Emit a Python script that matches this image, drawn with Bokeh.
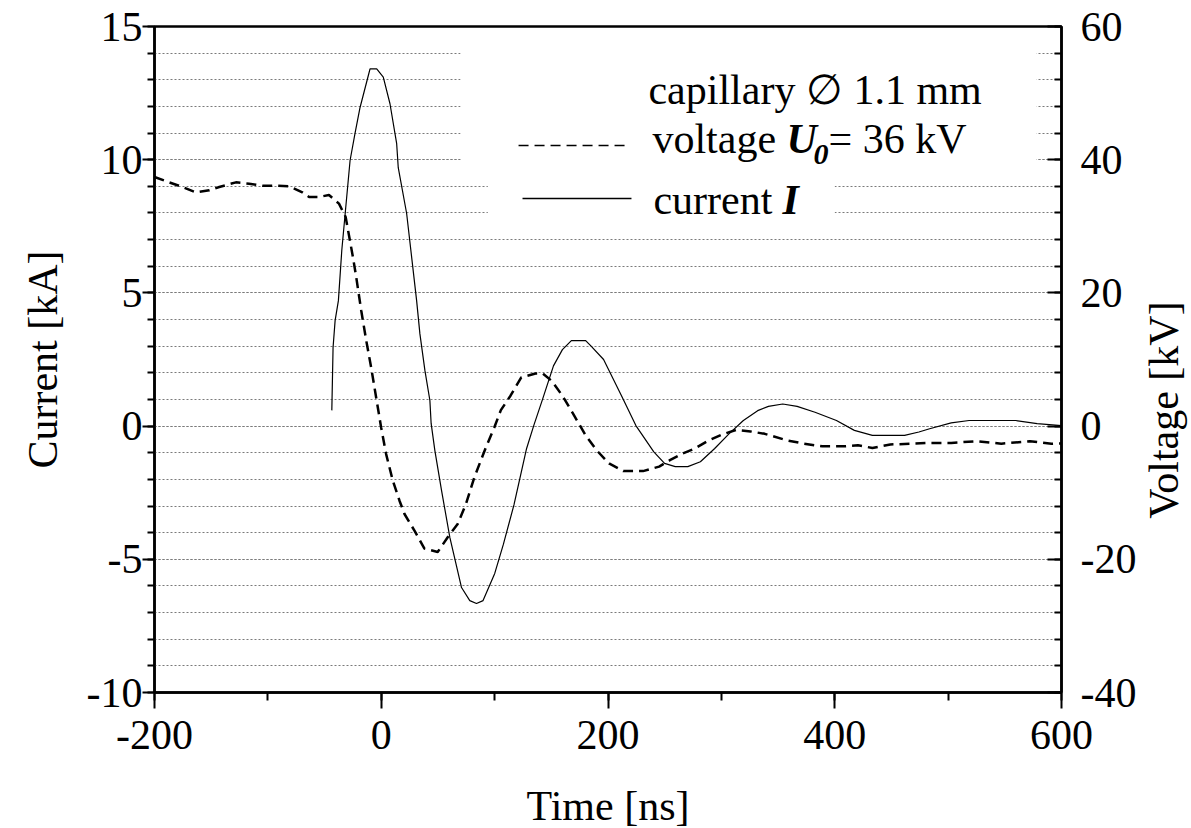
from bokeh.plotting import figure
from bokeh.layouts import row
from bokeh.models import (Range1d, LinearAxis, SingleIntervalTicker, Label, Arrow,
                          BoxAnnotation, ColumnDataSource, Div)
from bokeh.embed import file_html
from bokeh.resources import INLINE

# ---------------- data ----------------
time_current = [-43.6, -42.5, -40.7, -37.8, -34.8, -27.5, -23.1, -18.7, -11.4, -9.9,
                -4.0, 1.8, 7.7, 13.6, 15.0, 22.4, 31.2, 34.1, 38.5, 42.9,
                44.0, 47.3, 53.2, 60.5, 70.8, 78.1, 84.0, 89.8, 100.1, 107.7,
                117.1, 128.2, 134.5, 142.4, 151.9, 159.8, 167.7, 180.3, 185.1, 196.1,
                211.9, 224.6, 240.4, 249.9, 259.3, 270.4, 281.5, 294.1, 306.7, 319.4,
                332.0, 341.5, 354.1, 366.8, 382.6, 401.5, 417.3, 433.2, 461.6, 474.2,
                483.7, 502.7, 518.5, 559.5, 578.5, 600.0]
current_kA = [0.59, 2.95, 3.96, 4.71, 6.6, 9.97, 11.0, 11.96, 13.16, 13.41,
              13.41, 13.1, 12.1, 10.6, 9.7, 7.98, 4.71, 3.46, 2.09, 0.96,
              0.1, -0.92, -2.42, -4.18, -6.06, -6.55, -6.66, -6.55, -5.53, -4.44,
              -2.95, -0.84, 0.02, 1.02, 2.26, 2.87, 3.21, 3.21, 3.0, 2.5,
              1.14, 0.02, -0.97, -1.40, -1.52, -1.52, -1.34, -0.84, -0.29, 0.21,
              0.58, 0.74, 0.83, 0.74, 0.52, 0.21, -0.16, -0.35, -0.35, -0.22,
              -0.10, 0.12, 0.21, 0.21, 0.09, 0.02]

time_voltage = [-200.0, -187.0, -175.3, -163.5, -151.7, -142.9, -128.2, -116.5, -104.8, -93.0,
                -81.3, -69.6, -63.7, -54.9, -46.1, -37.3, -31.4, -24.9, -22.1, -17.7,
                -13.3, -8.9, -4.5, -0.1, 4.3, 10.2, 16.1, 20.5, 29.3, 38.1,
                49.8, 58.6, 67.4, 74.7, 82.1, 92.3, 99.7, 105.5, 114.0, 123.5,
                136.1, 142.4, 150.3, 159.8, 169.3, 180.3, 189.8, 200.9, 213.5, 230.9,
                245.1, 254.6, 265.7, 276.7, 287.8, 300.4, 313.1, 325.7, 338.3, 357.3,
                373.1, 388.9, 407.9, 420.5, 433.2, 449.0, 467.9, 483.7, 502.7, 524.8,
                546.9, 572.2, 591.1, 600.0]
voltage_kV = [37.4, 36.6, 35.9, 35.1, 35.4, 35.9, 36.6, 36.4, 36.1, 36.1,
              36.0, 35.1, 34.4, 34.4, 34.7, 33.4, 31.4, 25.3, 22.4, 17.4,
              12.9, 8.8, 4.3, -0.2, -4.2, -8.2, -11.2, -13.2, -15.7, -18.4,
              -18.9, -16.7, -14.7, -11.7, -7.7, -3.2, -0.2, 2.4, 4.56, 7.3,
              7.9, 7.9, 6.8, 4.56, 1.84, -1.4, -3.6, -5.6, -6.76, -6.76,
              -6.08, -5.12, -4.12, -3.36, -2.24, -1.28, -0.56, -0.8, -1.16, -2.12,
              -2.64, -3.04, -3.04, -2.88, -3.28, -2.76, -2.64, -2.52, -2.52, -2.28,
              -2.64, -2.28, -2.64, -2.6]

x_ticks = [-200, 0, 200, 400, 600]
x_tick_labels = ["-200", "0", "200", "400", "600"]
current_ticks = [-10, -5, 0, 5, 10, 15]
current_tick_labels = ["-10", "-5", "0", "5", "10", "15"]
voltage_ticks = [-40, -20, 0, 20, 40, 60]
voltage_tick_labels = ["-40", "-20", "0", "20", "40", "60"]

x_title = "Time [ns]"
left_title = "Current [kA]"
right_title = "Voltage [kV]"
legend_title = "capillary \u2205 1.1 mm"
legend_voltage = ["voltage", "U", "0", "= 36 kV"]
legend_current = ["current", "I"]

FONT = "Liberation Serif"
FS = "42px"

# ---------------- figure ----------------
p = figure(frame_width=907, frame_height=666,
           x_range=Range1d(-200, 600), y_range=Range1d(-10, 15),
           output_backend="svg", toolbar_location=None,
           min_border=0, min_border_left=154, min_border_top=26,
           min_border_right=0, min_border_bottom=0)
p.background_fill_color = "white"
p.border_fill_color = "white"
p.outline_line_color = "black"
p.outline_line_width = 2.5

# left axis
left_ticker = SingleIntervalTicker(interval=5, num_minor_ticks=5)
la = p.left[0]
la.ticker = left_ticker
la.major_label_overrides = dict(zip(current_ticks, current_tick_labels))
la.axis_label = left_title
la.major_tick_out = 12
la.major_tick_in = 0
la.minor_tick_out = 7
la.minor_tick_in = 0
la.major_label_standoff = 0
la.axis_label_standoff = 18

# bottom axis
ba = p.below[0]
ba.ticker = SingleIntervalTicker(interval=200, num_minor_ticks=2)
ba.major_label_overrides = dict(zip(x_ticks, x_tick_labels))
ba.axis_label = x_title
ba.major_tick_out = 16
ba.major_tick_in = 0
ba.minor_tick_out = 8
ba.minor_tick_in = 0
ba.major_label_standoff = 12
ba.axis_label_standoff = 31

# right axis (its title is drawn next to the figure, reading upwards)
p.extra_y_ranges = {"volt": Range1d(-40, 60)}
ra = LinearAxis(y_range_name="volt",
                ticker=SingleIntervalTicker(interval=20, num_minor_ticks=5))
ra.major_label_overrides = dict(zip(voltage_ticks, voltage_tick_labels))
ra.major_tick_in = 14
ra.major_tick_out = 0
ra.minor_tick_in = 7
ra.minor_tick_out = 0
ra.major_label_standoff = 19
p.add_layout(ra, "right")

for ax in (la, ba, ra):
    ax.axis_line_width = 2.5
    ax.axis_line_color = "black"
    ax.major_tick_line_width = 2
    ax.minor_tick_line_width = 2
    ax.major_tick_line_color = "black"
    ax.minor_tick_line_color = "black"
    ax.major_label_text_font = FONT
    ax.major_label_text_font_size = FS
    ax.major_label_text_color = "black"
    ax.axis_label_text_font = FONT
    ax.axis_label_text_font_size = FS
    ax.axis_label_text_font_style = "normal"
    ax.axis_label_text_color = "black"

# grids
p.xgrid.visible = False
p.ygrid.ticker = left_ticker
p.ygrid.grid_line_color = "#7a7a7a"
p.ygrid.grid_line_dash = "2 2"
p.ygrid.grid_line_width = 1
p.ygrid.minor_grid_line_color = "#7a7a7a"
p.ygrid.minor_grid_line_dash = "2 2"
p.ygrid.minor_grid_line_width = 1

# ---------------- data lines ----------------
src_i = ColumnDataSource(dict(t=time_current, v=current_kA))
src_u = ColumnDataSource(dict(t=time_voltage, v=voltage_kV))
p.line("t", "v", source=src_i, line_color="black", line_width=1.2)
p.line("t", "v", source=src_u, y_range_name="volt", line_color="black",
       line_width=2.5, line_dash="10 6")

# ---------------- legend (manual) ----------------
p.add_layout(BoxAnnotation(left=70, right=578, bottom=9.5, top=14.5,
                           fill_color="white", fill_alpha=1, line_color=None))
p.add_layout(BoxAnnotation(left=94, right=400, bottom=7.5, top=9.5,
                           fill_color="white", fill_alpha=1, line_color=None))

def lab(text, x, y, xo=0, yo=0, style="normal", size=FS):
    p.add_layout(Label(x=x, y=y, x_offset=xo, y_offset=yo, text=text,
                       text_font=FONT, text_font_size=size, text_font_style=style,
                       text_color="black", text_align="left",
                       text_baseline="alphabetic"))

lab(legend_title, 235.7, 12.6)
lab(legend_voltage[0], 239.2, 10.76)
lab(legend_voltage[1], 239.2, 10.76, xo=134, style="bold italic")
lab(legend_voltage[2], 239.2, 10.76, xo=161, yo=-15, style="bold italic", size="30px")
lab(legend_voltage[3], 239.2, 10.76, xo=176)
lab(legend_current[0], 240.1, 8.47)
lab(legend_current[1], 240.1, 8.47, xo=129, style="bold italic")

p.add_layout(Arrow(x_start=121.1, y_start=10.53, x_end=218.1, y_end=10.53,
                   start=None, end=None, line_color="black", line_width=1.5,
                   line_dash="10 6"))
p.add_layout(Arrow(x_start=124.6, y_start=8.54, x_end=220.7, y_end=8.54,
                   start=None, end=None, line_color="black", line_width=1.5))

# right-hand title, rotated to read bottom-to-top
right_div = Div(
    text=('<div style="position:absolute; left:20px; top:405px; '
          'transform:translate(-50%,-50%) rotate(-90deg); white-space:nowrap; '
          "font-family:'Liberation Serif'; font-size:42px; line-height:1; "
          'color:black;">' + right_title + '</div>'),
    width=52, height=760, styles={"overflow": "visible"})

layout = row(p, right_div, spacing=0)
open("out.html", "w").write(file_html(layout, INLINE))
